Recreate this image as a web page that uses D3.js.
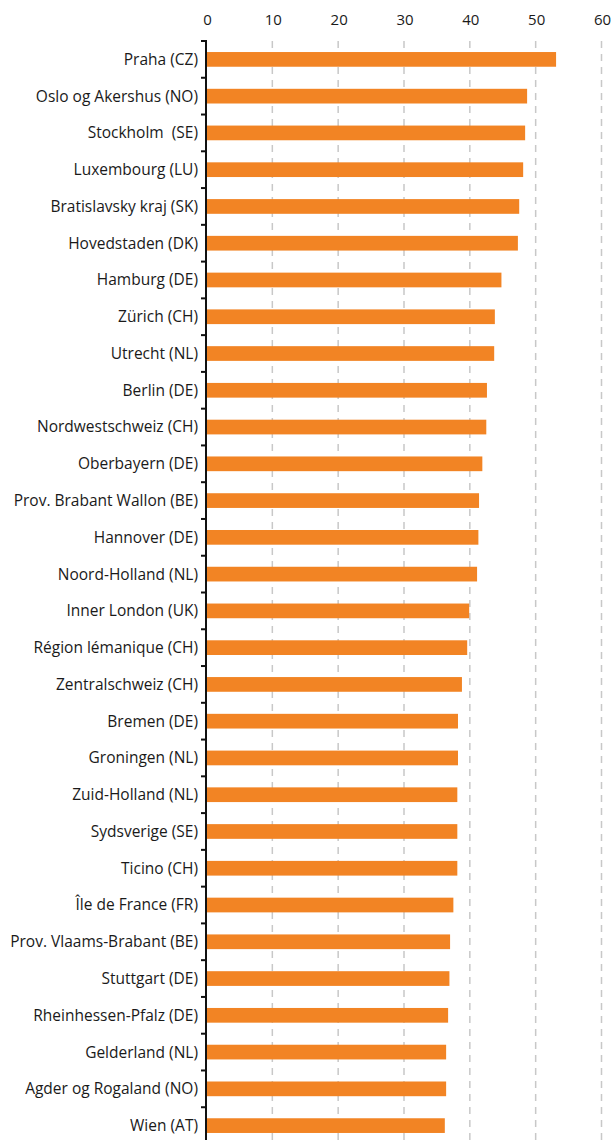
<!DOCTYPE html>
<html>
<head>
<meta charset="utf-8">
<script src="https://d3js.org/d3.v7.min.js"></script>
<style>
  body { margin: 0; background: #fff; }
  text { font-family: "Open Sans", Lato, sans-serif; fill: #1a1a1a; }
</style>
</head>
<body>
<script>
// regions, top to bottom
var regions = ["Praha (CZ)", "Oslo og Akershus (NO)", "Stockholm  (SE)", "Luxembourg (LU)",
  "Bratislavsky kraj (SK)", "Hovedstaden (DK)", "Hamburg (DE)", "Zürich (CH)", "Utrecht (NL)",
  "Berlin (DE)", "Nordwestschweiz (CH)", "Oberbayern (DE)", "Prov. Brabant Wallon (BE)",
  "Hannover (DE)", "Noord-Holland (NL)", "Inner London (UK)", "Région lémanique (CH)",
  "Zentralschweiz (CH)", "Bremen (DE)", "Groningen (NL)", "Zuid-Holland (NL)", "Sydsverige (SE)",
  "Ticino (CH)", "Île de France (FR)", "Prov. Vlaams-Brabant (BE)", "Stuttgart (DE)",
  "Rheinhessen-Pfalz (DE)", "Gelderland (NL)", "Agder og Rogaland (NO)", "Wien (AT)"];
var values = [53.1, 48.7, 48.4, 48.1, 47.5, 47.3, 44.8, 43.8, 43.7, 42.6, 42.5, 41.9, 41.4,
  41.3, 41.1, 39.9, 39.6, 38.8, 38.2, 38.2, 38.1, 38.1, 38.1, 37.5, 37.0, 36.9, 36.7, 36.4,
  36.4, 36.2];
var xTicks = [0, 10, 20, 30, 40, 50, 60];

var width = 614, height = 1140;
var svg = d3.select("body").append("svg")
  .attr("width", width)
  .attr("height", height);

var x = d3.scaleLinear().domain([0, 60]).range([206.5, 601.5]);
var y = d3.scaleBand().domain(regions).range([41, 1144])
  .paddingInner(0.6).paddingOuter(0.3);

// dashed gridlines
svg.selectAll("line.grid")
  .data(xTicks.slice(1))
  .enter().append("line")
  .attr("class", "grid")
  .attr("x1", function(d) { return x(d); })
  .attr("x2", function(d) { return x(d); })
  .attr("y1", 41)
  .attr("y2", height)
  .attr("stroke", "#c8c8c8")
  .attr("stroke-width", 1.5)
  .attr("stroke-dasharray", "7,6");

// top tick labels
svg.selectAll("text.xlab")
  .data(xTicks)
  .enter().append("text")
  .attr("class", "xlab")
  .attr("x", function(d) { return x(d) + 1; })
  .attr("y", 25)
  .attr("text-anchor", "middle")
  .style("font-size", "15px")
  .text(function(d) { return d; });

// bars
svg.selectAll("rect.bar")
  .data(values)
  .enter().append("rect")
  .attr("class", "bar")
  .attr("x", x(0))
  .attr("y", function(d, i) { return y(regions[i]); })
  .attr("width", function(d) { return x(d) - x(0); })
  .attr("height", y.bandwidth())
  .attr("fill", "#f28424");

// y axis line and boundary ticks
var step = y.step();
var top0 = y(regions[0]) - step * y.paddingInner() / 2;
var bounds = d3.range(regions.length + 1).map(function(i) { return top0 + i * step; });

svg.append("line")
  .attr("x1", 206).attr("x2", 206)
  .attr("y1", bounds[0]).attr("y2", height)
  .attr("stroke", "#111").attr("stroke-width", 2);

svg.selectAll("line.ytick")
  .data(bounds)
  .enter().append("line")
  .attr("class", "ytick")
  .attr("x1", 201).attr("x2", 207)
  .attr("y1", function(d) { return d; })
  .attr("y2", function(d) { return d; })
  .attr("stroke", "#111").attr("stroke-width", 2);

// category labels
svg.selectAll("text.ylab")
  .data(regions)
  .enter().append("text")
  .attr("class", "ylab")
  .attr("x", 198)
  .attr("y", function(d) { return y(d) + y.bandwidth() / 2; })
  .attr("dy", "0.35em")
  .attr("text-anchor", "end")
  .style("font-size", "15.5px")
  .style("white-space", "pre")
  .text(function(d) { return d; });
</script>
</body>
</html>
